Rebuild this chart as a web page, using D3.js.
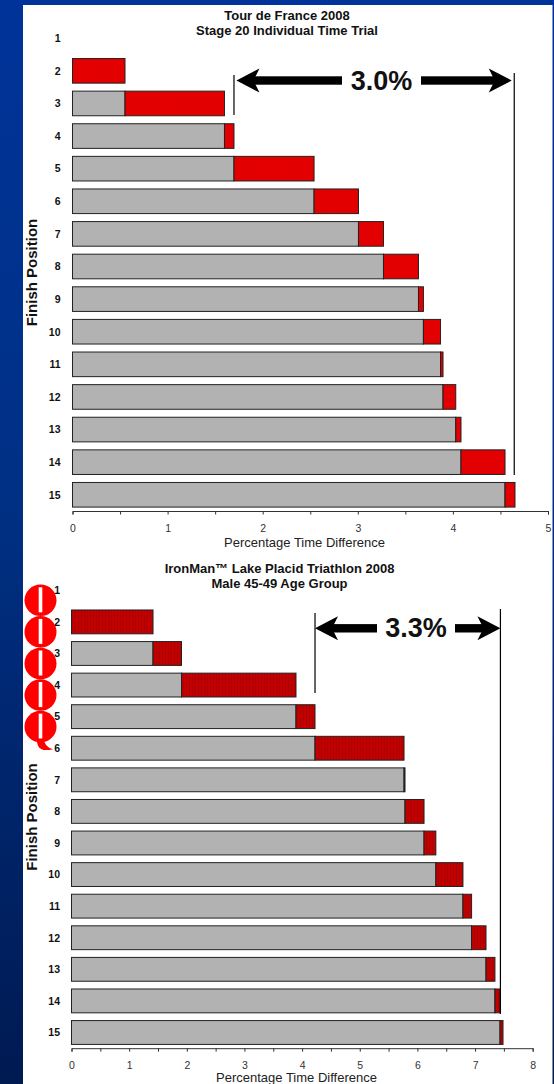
<!DOCTYPE html>
<html>
<head>
<meta charset="utf-8">
<script src="https://cdn.jsdelivr.net/npm/d3@7"></script>
<style>
html, body { margin: 0; padding: 0; background: #002060; overflow: hidden; }
text { font-family: "Liberation Sans", Arial, sans-serif; }
</style>
</head>
<body>
<div id="chart"></div>
<script>
const positions = [1, 2, 3, 4, 5, 6, 7, 8, 9, 10, 11, 12, 13, 14, 15];

// cumulative percentage behind the winner at each finish position
const tdfValues = [0, 0.552, 1.598, 1.698, 2.54, 3.007, 3.27, 3.638, 3.69, 3.87, 3.896, 4.03, 4.085, 4.548, 4.653];
const ironmanValues = [0, 1.414, 1.908, 3.894, 4.224, 5.768, 5.785, 6.115, 6.32, 6.79, 6.94, 7.19, 7.345, 7.433, 7.485];

const tdfTicks = [0, 0.5, 1, 1.5, 2, 2.5, 3, 3.5, 4, 4.5, 5];
const ironmanTicks = [0, 0.5, 1, 1.5, 2, 2.5, 3, 3.5, 4, 4.5, 5, 5.5, 6, 6.5, 7, 7.5, 8];

const tdfTitle = ["Tour de France 2008", "Stage 20 Individual Time Trial"];
const ironmanTitle = ["IronMan\u2122 Lake Placid Triathlon 2008", "Male 45-49 Age Group"];

const yTitle = "Finish Position";
const xTitle = "Percentage Time Difference";

// the red bullets sit next to these rows of the lower chart
const bulletRows = [1, 2, 3, 4, 5];

const width = 554, height = 1084;

const svg = d3.select("#chart").append("svg")
    .attr("width", width)
    .attr("height", height)
    .style("display", "block");

const defs = svg.append("defs");

const bg = defs.append("linearGradient")
    .attr("id", "bg")
    .attr("x1", 0).attr("y1", 0).attr("x2", 0).attr("y2", 1);
bg.append("stop").attr("offset", "0%").attr("stop-color", "#003399");
bg.append("stop").attr("offset", "45%").attr("stop-color", "#003085");
bg.append("stop").attr("offset", "100%").attr("stop-color", "#001a52");

// dotted red of the upper chart
const dots = defs.append("pattern")
    .attr("id", "dots")
    .attr("width", 3).attr("height", 3)
    .attr("patternUnits", "userSpaceOnUse");
dots.append("rect").attr("width", 3).attr("height", 3).attr("fill", "#e40000");
dots.append("rect").attr("width", 1).attr("height", 1).attr("fill", "#d80000");

// striped red of the lower chart
const stripes = defs.append("pattern")
    .attr("id", "stripes")
    .attr("width", 3).attr("height", 3)
    .attr("patternUnits", "userSpaceOnUse");
stripes.append("rect").attr("width", 3).attr("height", 3).attr("fill", "#c20000");
stripes.append("rect").attr("width", 1).attr("height", 3).attr("fill", "#ae0202");

svg.append("rect")
    .attr("width", width).attr("height", height)
    .attr("fill", "url(#bg)");
svg.append("rect")
    .attr("x", 23).attr("y", 5)
    .attr("width", 529.5).attr("height", height - 5)
    .attr("fill", "#fff");

function drawPanel(cfg) {
    const x = d3.scaleLinear()
        .domain([0, cfg.ticks[cfg.ticks.length - 1]])
        .range(cfg.xRange);

    const y = d3.scaleBand()
        .domain(positions)
        .range(cfg.yRange)
        .paddingInner(0.245)
        .paddingOuter(0.12);

    const g = svg.append("g");

    if (cfg.before) cfg.before(g, x, y);

    const rows = positions.map((p, i) => ({
        pos: p,
        start: i === 0 ? 0 : cfg.values[i - 1],
        end: cfg.values[i]
    }));

    // grey = gap to the rider in front, red = what this position lost
    g.selectAll("rect.base")
        .data(rows.filter(d => d.start > 0))
        .enter().append("rect")
        .attr("class", "base")
        .attr("x", d => x(0))
        .attr("y", d => y(d.pos))
        .attr("width", d => x(d.start) - x(0))
        .attr("height", y.bandwidth())
        .attr("fill", "#b2b2b2")
        .attr("stroke", "#222")
        .attr("stroke-width", 1);

    g.selectAll("rect.delta")
        .data(rows.filter(d => d.end > d.start))
        .enter().append("rect")
        .attr("class", "delta")
        .attr("x", d => x(d.start))
        .attr("y", d => y(d.pos))
        .attr("width", d => x(d.end) - x(d.start))
        .attr("height", y.bandwidth())
        .attr("fill", cfg.fill)
        .attr("stroke", "#222")
        .attr("stroke-width", 1);

    const xAxis = d3.axisBottom(x)
        .tickValues(cfg.ticks)
        .tickSize(3.5)
        .tickPadding(10)
        .tickFormat(d => Number.isInteger(d) ? d : "");

    const axisG = g.append("g")
        .attr("transform", "translate(0," + cfg.axisY + ")")
        .call(xAxis);
    axisG.selectAll("path, line").attr("stroke", "#333");
    axisG.selectAll("text")
        .attr("fill", "#333")
        .style("font-size", "10.5px");

    g.selectAll("text.row")
        .data(positions)
        .enter().append("text")
        .attr("class", "row")
        .attr("x", cfg.rowX)
        .attr("y", d => y(d) + y.bandwidth() / 2)
        .attr("dy", "0.36em")
        .attr("text-anchor", "end")
        .attr("font-size", 10.5)
        .attr("font-weight", "bold")
        .attr("fill", "#111")
        .text(d => d);

    g.selectAll("text.title")
        .data(cfg.title)
        .enter().append("text")
        .attr("class", "title")
        .attr("x", cfg.titleX)
        .attr("y", (d, i) => cfg.titleY + i * cfg.titleStep)
        .attr("text-anchor", "middle")
        .attr("font-size", 13)
        .attr("font-weight", "bold")
        .attr("fill", "#111")
        .text(d => d);

    g.append("text")
        .attr("x", cfg.xTitleX)
        .attr("y", cfg.xTitleY)
        .attr("text-anchor", "middle")
        .attr("font-size", 13)
        .attr("fill", "#222")
        .text(xTitle);

    g.append("text")
        .attr("transform", "translate(37," + cfg.yTitleY + ") rotate(-90)")
        .attr("text-anchor", "middle")
        .attr("font-size", 15)
        .attr("font-weight", "bold")
        .attr("fill", "#111")
        .text(yTitle);

    // span marker between the two vertical lines
    const a = cfg.span;
    g.append("line")
        .attr("x1", x(a.left)).attr("x2", x(a.left))
        .attr("y1", a.leftY[0]).attr("y2", a.leftY[1])
        .attr("stroke", "#000").attr("stroke-width", 1.2);
    g.append("line")
        .attr("x1", x(a.right)).attr("x2", x(a.right))
        .attr("y1", a.rightY[0]).attr("y2", a.rightY[1])
        .attr("stroke", "#000").attr("stroke-width", 1.2);

    const tipL = x(a.left) + a.tipGap, tipR = x(a.right) - a.tipGap;
    const head = (tip, dir) => {
        const cy = a.arrowY;
        return "M" + tip + "," + cy +
            "L" + (tip + dir * 23) + "," + (cy - 12) +
            "L" + (tip + dir * 17) + "," + cy +
            "L" + (tip + dir * 23) + "," + (cy + 12) + "Z";
    };
    g.append("path").attr("d", head(tipL, 1)).attr("fill", "#000");
    g.append("path").attr("d", head(tipR, -1)).attr("fill", "#000");
    g.append("rect")
        .attr("x", tipL + 15).attr("y", a.arrowY - 4.2)
        .attr("width", a.shaftL - tipL - 15).attr("height", 8.4)
        .attr("fill", "#000");
    g.append("rect")
        .attr("x", a.shaftR).attr("y", a.arrowY - 4.2)
        .attr("width", tipR - 15 - a.shaftR).attr("height", 8.4)
        .attr("fill", "#000");
    g.append("text")
        .attr("x", (a.shaftL + a.shaftR) / 2)
        .attr("y", a.labelY)
        .attr("text-anchor", "middle")
        .attr("font-size", 27)
        .attr("font-weight", "bold")
        .attr("fill", "#111")
        .text(a.label);
}

drawPanel({
    values: tdfValues,
    ticks: tdfTicks,
    title: tdfTitle,
    fill: "url(#dots)",
    xRange: [72.5, 548],
    yRange: [22, 511],
    axisY: 511,
    rowX: 60.5,
    titleX: 287, titleY: 19.5, titleStep: 15.5,
    xTitleX: 304.5, xTitleY: 547,
    yTitleY: 272.5,
    span: {
        left: tdfValues[3], right: 4.645, label: "3.0%",
        leftY: [75, 115], rightY: [73, 475],
        arrowY: 80.5, tipGap: 2.5,
        shaftL: 342, shaftR: 421, labelY: 90
    }
});

drawPanel({
    values: ironmanValues,
    ticks: ironmanTicks,
    title: ironmanTitle,
    fill: "url(#stripes)",
    xRange: [71.5, 532.7],
    yRange: [574.6, 1048.2],
    axisY: 1048.2,
    rowX: 60,
    titleX: 279.5, titleY: 572.5, titleStep: 15.5,
    xTitleX: 296.5, xTitleY: 1082,
    yTitleY: 817,
    before: (g, x, y) => {
        const bullets = g.append("g").attr("class", "bullets");
        bullets.selectAll("ellipse")
            .data(bulletRows)
            .enter().append("ellipse")
            .attr("cx", 40.5)
            .attr("cy", d => y(d) + y.bandwidth() / 2 + 10)
            .attr("rx", 16)
            .attr("ry", 15.8)
            .attr("fill", "#ff0000");
        bullets.selectAll("rect")
            .data(bulletRows)
            .enter().append("rect")
            .attr("x", 38.7)
            .attr("y", d => y(d) + y.bandwidth() / 2 - 3)
            .attr("width", 3.6)
            .attr("height", 25)
            .attr("fill", "#fff");
        // tail of the last bullet
        const last = y(5) + y.bandwidth() / 2 + 10;
        bullets.append("path")
            .attr("d", "M36," + (last + 12) + "L44," + (last + 12) +
                "Q44," + (last + 20) + " 53," + (last + 22.5) +
                "Q41," + (last + 25.5) + " 38," + (last + 19) + "Z")
            .attr("fill", "#ff0000");
    },
    span: {
        left: 4.224, right: 7.44, label: "3.3%",
        leftY: [613, 693], rightY: [609, 1014],
        arrowY: 628.3, tipGap: 0,
        shaftL: 377, shaftR: 455, labelY: 637
    }
});
</script>
</body>
</html>
